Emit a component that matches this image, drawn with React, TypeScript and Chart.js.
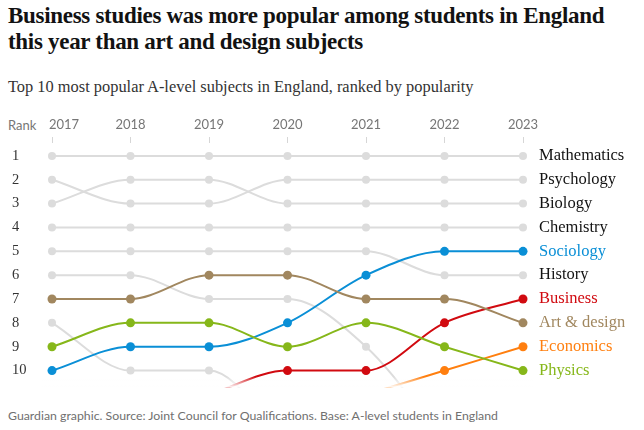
import React, { useEffect, useRef } from 'react';
import { Chart, registerables } from 'chart.js';

Chart.register(...registerables);

// ---- data ----
const years = ['2017', '2018', '2019', '2020', '2021', '2022', '2023'];
const rankTicks = [1, 2, 3, 4, 5, 6, 7, 8, 9, 10];

const mathematics = [1, 1, 1, 1, 1, 1, 1];
const psychology = [2, 3, 3, 2, 2, 2, 2];
const biology = [3, 2, 2, 3, 3, 3, 3];
const chemistry = [4, 4, 4, 4, 4, 4, 4];
const history = [5, 5, 5, 5, 5, 6, 6];
const sociology = [10, 9, 9, 8, 6, 5, 5];
const business = [null, null, 11, 10, 10, 8, 7];
const artDesign = [7, 7, 6, 6, 7, 7, 8];
const economics = [null, null, null, null, 11, 10, 9];
const physics = [9, 8, 8, 9, 8, 9, 10];
// subjects that dropped out of the top 10 (unlabelled grey lines)
const droppedA = [6, 6, 7, 7, 9, 13, null];
const droppedB = [8, 10, 10, 13, null, null, null];

const GREY = '#dcdcdc';
const DARK = '#121212';

type Subject = { name: string; values: (number | null)[]; color: string; labelColor: string; highlight: boolean };

const subjects: Subject[] = [
  { name: 'Mathematics', values: mathematics, color: GREY, labelColor: DARK, highlight: false },
  { name: 'Psychology', values: psychology, color: GREY, labelColor: DARK, highlight: false },
  { name: 'Biology', values: biology, color: GREY, labelColor: DARK, highlight: false },
  { name: 'Chemistry', values: chemistry, color: GREY, labelColor: DARK, highlight: false },
  { name: 'History', values: history, color: GREY, labelColor: DARK, highlight: false },
  { name: '', values: droppedA, color: GREY, labelColor: DARK, highlight: false },
  { name: '', values: droppedB, color: GREY, labelColor: DARK, highlight: false },
  { name: 'Art & design', values: artDesign, color: '#a1875f', labelColor: '#a1875f', highlight: true },
  { name: 'Physics', values: physics, color: '#86b71a', labelColor: '#86b71a', highlight: true },
  { name: 'Sociology', values: sociology, color: '#0a8fd6', labelColor: '#0a8fd6', highlight: true },
  { name: 'Economics', values: economics, color: '#ff7f0f', labelColor: '#ff7f0f', highlight: true },
  { name: 'Business', values: business, color: '#d10a10', labelColor: '#d10a10', highlight: true },
];

const lastIdx = years.length - 1;
const subjectAtFinalRank = (rank: number) =>
  subjects.find((s) => s.name && s.values[lastIdx] === rank);

// draws the year labels above the tick marks (first one starts at its tick)
const yearLabels = {
  id: 'yearLabels',
  afterDatasetsDraw(chart: any) {
    // soft fade of lines leaving / entering through the bottom edge
    const { ctx, chartArea } = chart;
    const g = ctx.createLinearGradient(0, chartArea.bottom - 11, 0, chartArea.bottom);
    g.addColorStop(0, 'rgba(255,255,255,0)');
    g.addColorStop(1, 'rgba(255,255,255,1)');
    ctx.save();
    ctx.fillStyle = g;
    ctx.fillRect(chartArea.left - 10, chartArea.bottom - 11, chartArea.right - chartArea.left + 20, 11);
    ctx.restore();
  },
  afterDraw(chart: any) {
    const xs = chart.scales.x;
    const ctx = chart.ctx;
    ctx.save();
    ctx.font = '13px Lato, sans-serif';
    ctx.fillStyle = '#767676';
    ctx.textBaseline = 'middle';
    years.forEach((y, i) => {
      const px = xs.getPixelForValue(i);
      ctx.textAlign = i === 0 ? 'left' : 'center';
      ctx.fillText(y, i === 0 ? px - 3 : px, xs.bottom - 18);
    });
    ctx.restore();
  },
};

export default function App() {
  const canvasRef = useRef<HTMLCanvasElement>(null);

  useEffect(() => {
    document.body.style.margin = '0';
    document.body.style.background = '#ffffff';
    const canvas = canvasRef.current;
    if (!canvas) return;

    const datasets = subjects.map((s) => ({
      label: s.name,
      data: s.values,
      borderColor: s.color,
      backgroundColor: s.color,
      pointBackgroundColor: s.color,
      pointBorderWidth: 0,
      pointRadius: (ctx: any) => {
        const v = ctx.raw;
        return v == null || v > 10 ? 0 : s.highlight ? 4.5 : 4;
      },
      pointHoverRadius: 4,
      borderWidth: 2,
      cubicInterpolationMode: 'monotone' as const,
      spanGaps: false,
      order: s.highlight ? 0 : 1,
      clip: { left: false, top: false, right: false, bottom: 0 } as any,
    }));

    const yCommon = {
      type: 'linear' as const,
      min: 0.458,
      max: 10.71,
      reverse: true,
      grid: { display: false, drawTicks: false },
      border: { display: false },
      afterBuildTicks: (axis: any) => {
        axis.ticks = rankTicks.map((v) => ({ value: v }));
      },
    };

    const chart = new Chart(canvas, {
      type: 'line',
      data: { labels: years, datasets },
      plugins: [yearLabels],
      options: {
        animation: false,
        responsive: false,
        events: [],
        layout: { padding: { left: 12, right: 0, top: 0, bottom: 0 } },
        plugins: { legend: { display: false }, tooltip: { enabled: false } },
        scales: {
          x: {
            type: 'category',
            position: 'top',
            offset: false,
            grid: { drawOnChartArea: false, drawTicks: true, tickLength: 6, color: '#d6d6d6' },
            border: { display: false },
            ticks: { display: false, autoSkip: false, maxRotation: 0 },
            afterFit: (scale: any) => {
              scale.height = 31;
              scale.paddingLeft = 0;
              scale.paddingRight = 0;
            },
          },
          y: {
            ...yCommon,
            position: 'left',
            ticks: {
              color: '#333333',
              font: { family: 'Liberation Serif', size: 14.5 },
              crossAlign: 'far',
              padding: 0,
              callback: (v: any) => String(v),
            },
            afterFit: (scale: any) => {
              scale.width = 40;
              scale.paddingTop = 0;
              scale.paddingBottom = 0;
            },
          },
          y2: {
            ...yCommon,
            position: 'right',
            ticks: {
              color: (ctx: any) => {
                const s = subjectAtFinalRank(ctx.tick.value);
                return s ? s.labelColor : DARK;
              },
              font: { family: 'Liberation Serif', size: 16.5 },
              padding: 16,
              callback: (v: any) => {
                const s = subjectAtFinalRank(Number(v));
                return s ? s.name : '';
              },
            },
            afterFit: (scale: any) => {
              scale.width = 121;
              scale.paddingTop = 0;
              scale.paddingBottom = 0;
            },
          },
        },
      },
    });

    return () => chart.destroy();
  }, []);

  return (
    <div style={{ position: 'relative', width: 644, height: 430, background: '#fff', overflow: 'hidden' }}>
      <div
        style={{
          position: 'absolute',
          left: 8,
          top: 3,
          width: 630,
          fontFamily: '"Liberation Serif", serif',
          fontWeight: 700,
          fontSize: 23,
          lineHeight: '26px',
          color: '#121212',
          letterSpacing: '-0.3px',
        }}
      >
        Business studies was more popular among students in England
        <br />
        this year than art and design subjects
      </div>
      <div
        style={{
          position: 'absolute',
          left: 8,
          top: 77,
          fontFamily: '"Liberation Serif", serif',
          fontSize: 16.4,
          lineHeight: '20px',
          color: '#333333',
          whiteSpace: 'nowrap',
        }}
      >
        Top 10 most popular A-level subjects in England, ranked by popularity
      </div>
      <div
        style={{
          position: 'absolute',
          left: 8,
          top: 117,
          fontFamily: 'Lato, sans-serif',
          fontSize: 13,
          lineHeight: '16px',
          color: '#767676',
        }}
      >
        Rank
      </div>
      <canvas
        ref={canvasRef}
        width={644}
        height={280}
        style={{ position: 'absolute', left: 0, top: 112, width: 644, height: 280 }}
      />
      <div
        style={{
          position: 'absolute',
          left: 8,
          top: 408,
          fontFamily: 'Lato, sans-serif',
          fontSize: 12.3,
          lineHeight: '16px',
          color: '#707070',
          whiteSpace: 'nowrap',
        }}
      >
        Guardian graphic. Source: Joint Council for Qualifications. Base: A-level students in England
      </div>
    </div>
  );
}
